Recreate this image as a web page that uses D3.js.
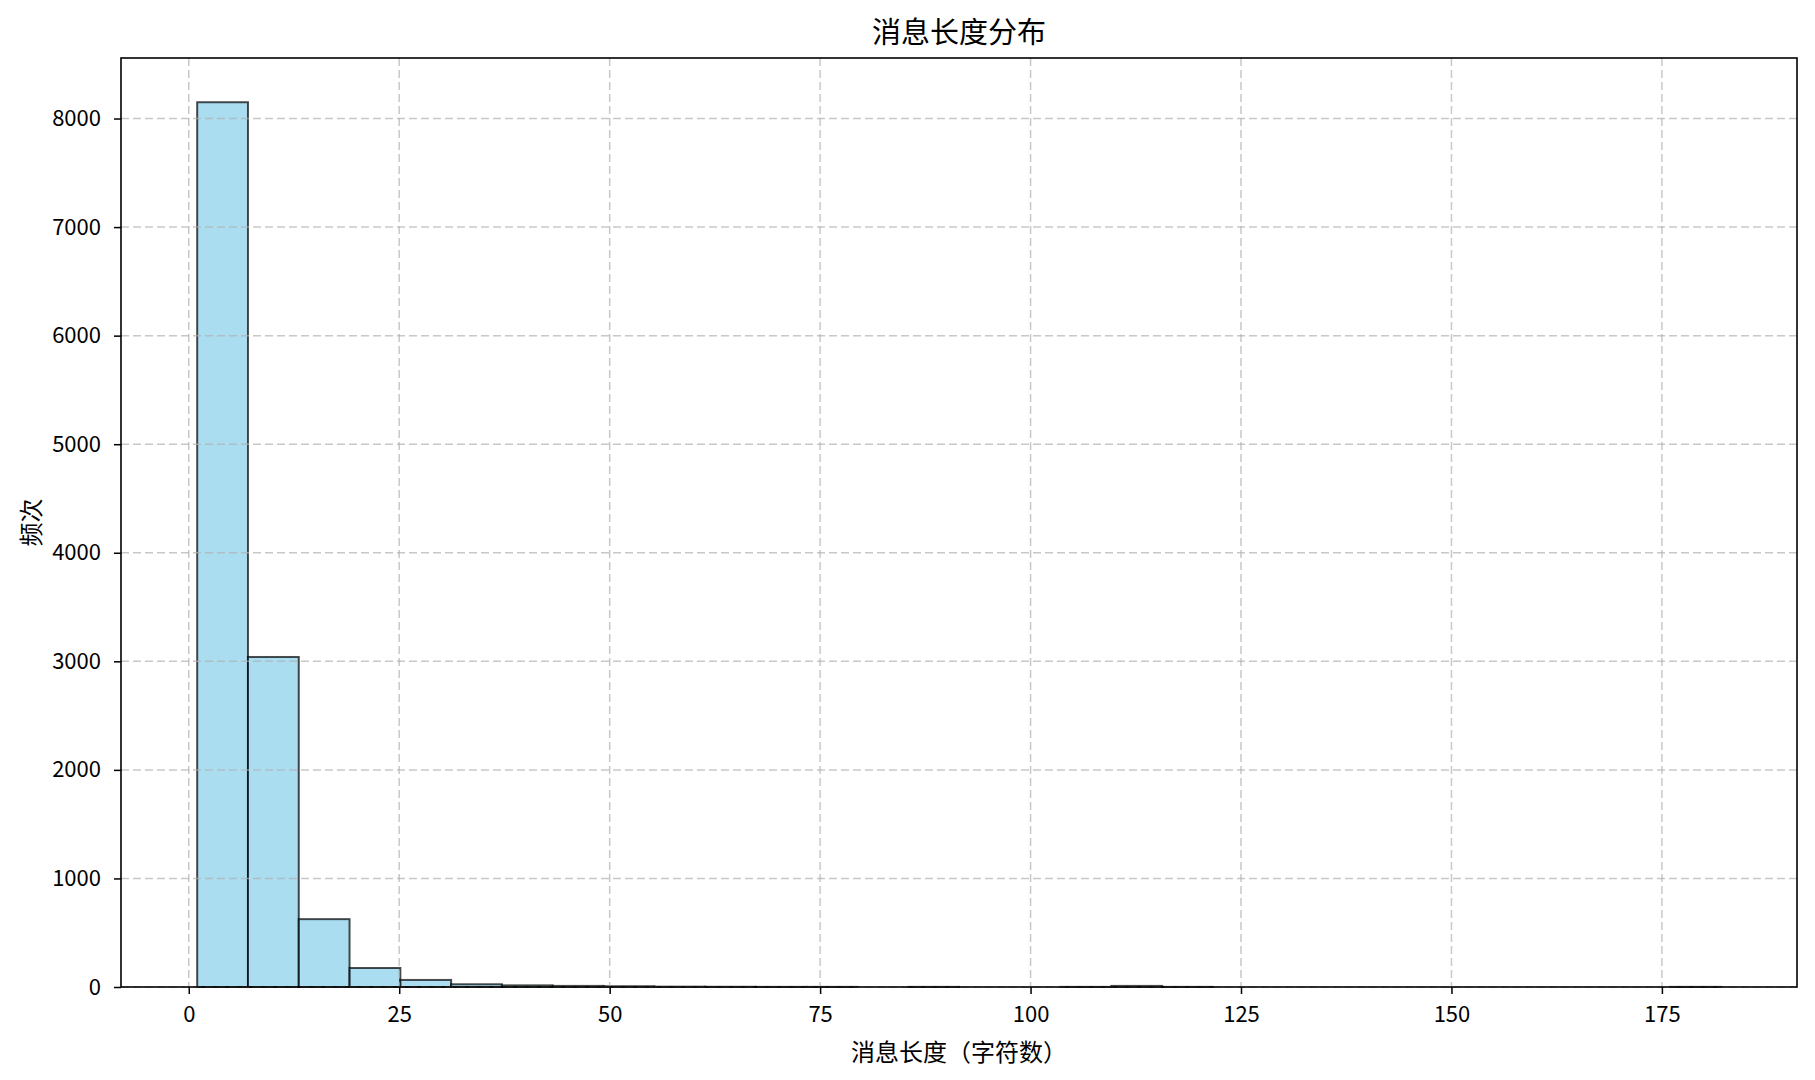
<!DOCTYPE html>
<html>
<head>
<meta charset="utf-8">
<script src="https://cdn.jsdelivr.net/npm/d3@7"></script>
<style>
  html, body { margin: 0; padding: 0; background: #fff; }
  svg text { font-family: "Noto Sans CJK SC", "DejaVu Sans", sans-serif; fill: #000; }
</style>
</head>
<body>
<svg id="chart" width="1815" height="1080"></svg>
<script>
// ---- data ----
const titleText = "消息长度分布";
const xLabelText = "消息长度（字符数）";
const yLabelText = "频次";
const binMin = 1;
const binMax = 182;
const counts = [8150, 3040, 625, 175, 65, 25, 15, 10, 7, 3,
                2, 1, 1, 0, 1, 0, 0, 1, 10, 1,
                0, 0, 0, 0, 0, 0, 0, 0, 0, 1];
const xTicks = [0, 25, 50, 75, 100, 125, 150, 175];
const yTicks = [0, 1000, 2000, 3000, 4000, 5000, 6000, 7000, 8000];

// ---- layout ----
const L = 121, R = 1797, T = 58, B = 987;
const svg = d3.select("#chart");

const binW = (binMax - binMin) / counts.length;
const bins = counts.map((c, i) => ({ x0: binMin + i * binW, x1: binMin + (i + 1) * binW, c }));

const span = binMax - binMin;
const x = d3.scaleLinear().domain([binMin - 0.05 * span, binMax + 0.05 * span]).range([L, R]);
const yMax = d3.max(counts) * 1.05;
const y = d3.scaleLinear().domain([0, yMax]).range([B, T]);

// bars
svg.append("g").selectAll("rect").data(bins).enter().append("rect")
  .attr("x", d => x(d.x0))
  .attr("y", d => y(d.c))
  .attr("width", d => x(d.x1) - x(d.x0))
  .attr("height", d => y(0) - y(d.c))
  .attr("fill", "#87CEEB").attr("fill-opacity", 0.7)
  .attr("stroke", "#000").attr("stroke-opacity", 0.7)
  .attr("stroke-width", 2);

// grid (drawn above the bars, like matplotlib)
const grid = svg.append("g");
grid.selectAll("line.gx").data(xTicks).enter().append("line")
  .attr("x1", d => x(d)).attr("x2", d => x(d)).attr("y1", T).attr("y2", B)
  .attr("stroke", "#b0b0b0").attr("stroke-opacity", 0.7)
  .attr("stroke-width", 1.5).attr("stroke-dasharray", "8,4");
grid.selectAll("line.gy").data(yTicks).enter().append("line")
  .attr("y1", d => y(d)).attr("y2", d => y(d)).attr("x1", L).attr("x2", R)
  .attr("stroke", "#b0b0b0").attr("stroke-opacity", 0.7)
  .attr("stroke-width", 1.5).attr("stroke-dasharray", "8,4");

// axes
const xAxis = d3.axisBottom(x).tickValues(xTicks).tickSize(7).tickPadding(12).tickFormat(d3.format("d"));
const yAxis = d3.axisLeft(y).tickValues(yTicks).tickSize(7).tickPadding(13).tickFormat(d3.format("d"));
const gx = svg.append("g").attr("transform", `translate(0,${B})`).call(xAxis);
const gy = svg.append("g").attr("transform", `translate(${L},0)`).call(yAxis);
[gx, gy].forEach(g => {
  g.select(".domain").remove();
  g.selectAll(".tick line").attr("stroke", "#000").attr("stroke-width", 1.5);
  g.selectAll(".tick text").style("font-size", "22px").attr("fill", "#000");
});

// frame
svg.append("rect").attr("x", L).attr("y", T).attr("width", R - L).attr("height", B - T)
  .attr("fill", "none").attr("stroke", "#000").attr("stroke-width", 1.6);

// title & labels
svg.append("text").attr("x", (L + R) / 2).attr("y", 43).attr("text-anchor", "middle")
  .style("font-size", "29px").text(titleText);
svg.append("text").attr("x", (L + R) / 2).attr("y", 1061).attr("text-anchor", "middle")
  .style("font-size", "24px").text(xLabelText);
svg.append("text").attr("transform", `translate(40,${(T + B) / 2}) rotate(-90)`)
  .attr("text-anchor", "middle").style("font-size", "24px").text(yLabelText);
</script>
</body>
</html>
